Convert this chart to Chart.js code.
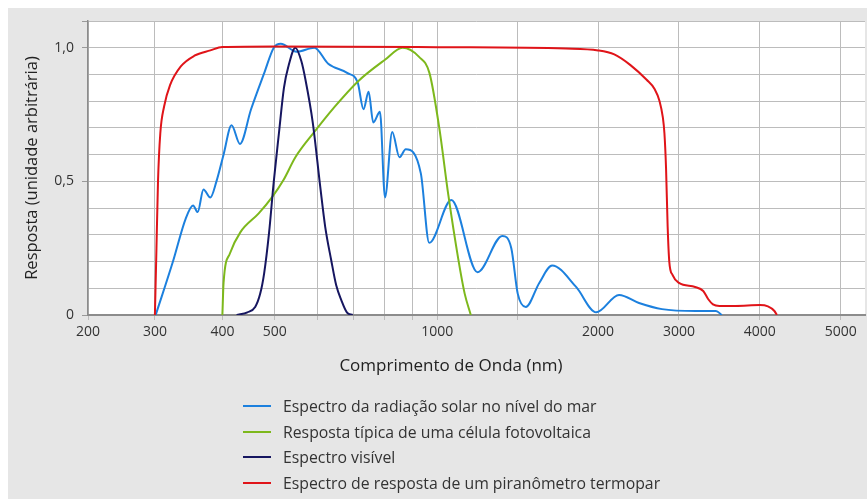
<!DOCTYPE html>
<html>
<head>
<meta charset="utf-8">
<script src="https://cdn.jsdelivr.net/npm/chart.js@4.4.1/dist/chart.umd.min.js"></script>
<style>
  html, body { margin: 0; padding: 0; background: #ffffff; }
  #panel { position: absolute; left: 8px; top: 8px; width: 859px; height: 491px; background: #e6e6e6; }
  #wrap { position: absolute; left: 0; top: 0; width: 867px; height: 499px; }
  #xTitle { position: absolute; left: 451px; top: 364px; transform: translate(-50%, -50%); font-family: "Open Sans", sans-serif; font-size: 17px; color: #222; white-space: nowrap; }
  #legend { position: absolute; left: 243px; top: 393px; font-family: "Open Sans", sans-serif; font-size: 15.8px; color: #333; }
  .row { height: 25.7px; display: flex; align-items: center; }
  .swatch { width: 28px; height: 2px; margin-right: 12px; }
</style>
</head>
<body>
<div id="panel"></div>
<div id="wrap"><canvas id="spectrumChart"></canvas></div>
<div id="xTitle">Comprimento de Onda (nm)</div>
<div id="legend"></div>
<script>
// tick values on the wavelength axis
const xGridValues = [200, 300, 400, 500, 600, 700, 800, 900, 1000, 1500, 2000, 3000, 4000, 5000];
const xLabelValues = [200, 300, 400, 500, 1000, 2000, 3000, 4000, 5000];
const yLabelValues = [0, 0.5, 1.0];

// solar spectrum at sea level
const solarNm = [301, 324, 342, 353, 360, 369, 380, 390, 402, 416, 431, 452, 478, 498, 513, 549, 592, 628, 682, 712, 730, 746, 761, 783, 800, 825, 851, 874, 932, 966, 1087, 1250, 1404, 1460, 1500, 1550, 1634, 1714, 1863, 1988, 2259, 2506, 2790, 3210, 3457, 3530];
const solarResp = [0, 0.2, 0.36, 0.41, 0.385, 0.47, 0.44, 0.5, 0.6, 0.71, 0.64, 0.77, 0.905, 1.0, 1.015, 0.985, 1.0, 0.94, 0.905, 0.87, 0.77, 0.835, 0.72, 0.76, 0.44, 0.685, 0.59, 0.62, 0.53, 0.27, 0.43, 0.16, 0.296, 0.25, 0.08, 0.03, 0.12, 0.185, 0.105, 0.01, 0.075, 0.045, 0.022, 0.015, 0.015, 0];

// typical photovoltaic cell response
const pvNm = [400, 402, 413, 432, 467, 494, 519, 546, 592, 643, 712, 800, 862, 925, 967, 1012, 1068, 1130, 1170, 1208];
const pvResp = [0, 0.12, 0.23, 0.31, 0.38, 0.44, 0.505, 0.59, 0.685, 0.775, 0.873, 0.955, 1.0, 0.966, 0.905, 0.7, 0.45, 0.21, 0.08, 0];

// visible spectrum
const visNm = [425, 445, 460, 470, 478, 488, 498, 509, 520, 530, 546, 560, 570, 588, 607, 620, 636, 650, 664, 680, 697];
const visResp = [0, 0.01, 0.03, 0.08, 0.157, 0.307, 0.5, 0.68, 0.85, 0.93, 1.0, 0.95, 0.88, 0.72, 0.48, 0.33, 0.206, 0.11, 0.056, 0.01, 0];

// thermopile pyranometer response
const pyranoNm = [300, 302, 304, 307, 312, 320, 335, 355, 380, 400, 500, 1000, 1800, 2000, 2200, 2400, 2600, 2700, 2760, 2800, 2820, 2840, 2860, 2880, 2920, 3000, 3200, 3300, 3360, 3420, 3500, 3700, 4000, 4100, 4180, 4210];
const pyranoResp = [0, 0.25, 0.5, 0.68, 0.78, 0.86, 0.93, 0.97, 0.99, 1.003, 1.005, 1.002, 0.997, 0.99, 0.975, 0.935, 0.88, 0.845, 0.8, 0.74, 0.68, 0.55, 0.33, 0.2, 0.15, 0.12, 0.105, 0.09, 0.06, 0.04, 0.034, 0.034, 0.037, 0.032, 0.015, 0];

const seriesNames = [
  'Espectro da radiação solar no nível do mar',
  'Resposta típica de uma célula fotovoltaica',
  'Espectro visível',
  'Espectro de resposta de um piranômetro termopar'
];
const seriesColors = ['#1c80de', '#7db81c', '#161660', '#e01419'];

// the original axis is stretched piecewise: linear 200-300, log 300-1000, linear above
function axisUnit(nm) {
  if (nm <= 300) return (nm - 200) * 0.67;
  if (nm <= 1000) return 67 + 541 * Math.log10(nm / 300);
  if (nm <= 2000) return 67 + 541 * Math.log10(10 / 3) + (nm - 1000) * 0.161;
  return 67 + 541 * Math.log10(10 / 3) + 161 + (nm - 2000) * 0.081;
}

class SpectrumScale extends Chart.LinearScale {
  buildTicks() {
    super.buildTicks();
    this.start = this.min;
    this.end = this.max;
    return xGridValues.map(v => ({ value: v }));
  }
  getPixelForValue(value) {
    const u0 = axisUnit(this.min);
    const u1 = axisUnit(this.max);
    return this.getPixelForDecimal((axisUnit(value) - u0) / (u1 - u0));
  }
  getValueForPixel(pixel) {
    const d = this.getDecimalForPixel(pixel);
    let lo = this.min, hi = this.max;
    for (let i = 0; i < 40; i++) {
      const mid = (lo + hi) / 2;
      const f = (axisUnit(mid) - axisUnit(this.min)) / (axisUnit(this.max) - axisUnit(this.min));
      if (f < d) lo = mid; else hi = mid;
    }
    return (lo + hi) / 2;
  }
}
SpectrumScale.id = 'spectrum';
SpectrumScale.defaults = Chart.LinearScale.defaults;
Chart.register(SpectrumScale);

function toPoints(xs, ys) {
  return xs.map((x, i) => ({ x: x, y: ys[i] }));
}

const plotBackground = {
  id: 'plotBackground',
  beforeDraw(chart) {
    const { ctx, chartArea: a } = chart;
    ctx.save();
    ctx.fillStyle = '#ffffff';
    ctx.fillRect(a.left, a.top, a.right - a.left, a.bottom - a.top);
    ctx.restore();
  }
};

const isYLabel = v => yLabelValues.some(l => Math.abs(l - v) < 1e-6);

const fontFamily = '"Open Sans", sans-serif';

new Chart(document.getElementById('spectrumChart'), {
  type: 'line',
  data: {
    datasets: [
      { label: seriesNames[0], data: toPoints(solarNm, solarResp), borderColor: seriesColors[0], order: 3 },
      { label: seriesNames[1], data: toPoints(pvNm, pvResp), borderColor: seriesColors[1], order: 2 },
      { label: seriesNames[2], data: toPoints(visNm, visResp), borderColor: seriesColors[2], order: 1 },
      { label: seriesNames[3], data: toPoints(pyranoNm, pyranoResp), borderColor: seriesColors[3], order: 0 }
    ]
  },
  options: {
    responsive: true,
    maintainAspectRatio: false,
    animation: false,
    layout: { padding: { top: 21, left: 0, right: 2, bottom: 114 } },
    elements: {
      point: { radius: 0 },
      line: { borderWidth: 2, cubicInterpolationMode: 'monotone', fill: false }
    },
    plugins: { legend: { display: false }, tooltip: { enabled: false } },
    scales: {
      x: {
        type: 'spectrum',
        min: 200,
        max: 5300,
        afterFit(scale) { scale.height = 70; },
        grid: { color: '#bcbcbc', lineWidth: 1, tickLength: 5, tickColor: '#bcbcbc' },
        border: { color: '#8c8c8c', width: 2 },
        ticks: {
          autoSkip: false,
          maxRotation: 0,
          padding: 4,
          color: '#333',
          font: { family: fontFamily, size: 14 },
          callback: v => xLabelValues.includes(v) ? String(v) : ''
        }
      },
      y: {
        min: 0,
        max: 1.1,
        afterFit(scale) { scale.width = 88; },
        grid: {
          color: '#bcbcbc',
          lineWidth: 1,
          tickLength: 6,
          tickColor: c => (isYLabel(c.tick.value) || Math.abs(c.tick.value - 1.1) < 1e-6) ? '#9a9a9a' : 'rgba(0,0,0,0)'
        },
        border: { color: '#8c8c8c', width: 1.5 },
        ticks: {
          stepSize: 0.1,
          padding: 8,
          color: '#333',
          font: { family: fontFamily, size: 14 },
          callback: v => isYLabel(v) ? (Math.abs(v) < 1e-6 ? '0' : v.toFixed(1).replace('.', ',')) : ''
        },
        title: {
          display: true,
          text: 'Resposta (unidade arbitrária)',
          color: '#222',
          font: { family: fontFamily, size: 16.5 },
          padding: { top: 22, bottom: 0 }
        }
      }
    }
  },
  plugins: [plotBackground]
});

// legend kept as plain html rows, left aligned like the original
const legend = document.getElementById('legend');
seriesNames.forEach((name, i) => {
  const row = document.createElement('div');
  row.className = 'row';
  const sw = document.createElement('span');
  sw.className = 'swatch';
  sw.style.background = seriesColors[i];
  const txt = document.createElement('span');
  txt.textContent = name;
  row.appendChild(sw);
  row.appendChild(txt);
  legend.appendChild(row);
});
</script>
</body>
</html>
